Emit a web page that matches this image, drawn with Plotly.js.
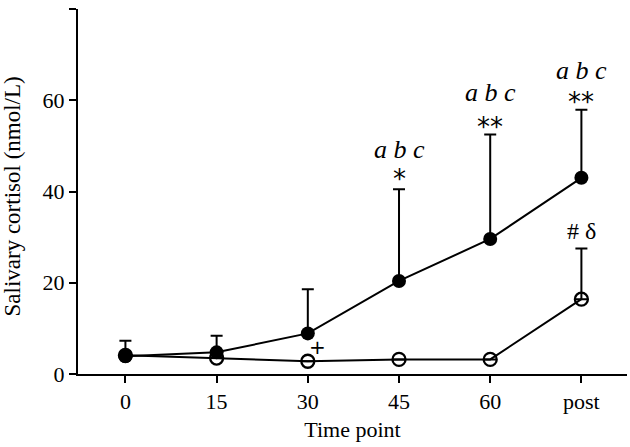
<!DOCTYPE html>
<html>
<head>
<meta charset="utf-8">
<script src="https://cdn.plot.ly/plotly-3.0.1.min.js"></script>
<style>html,body{margin:0;padding:0;background:#fff;}#chart{width:630px;height:447px;}</style>
</head>
<body>
<div id="chart"></div>
<script>
const timePoints = ['0', '15', '30', '45', '60', 'post'];
const filledMean = [3.9, 4.75, 8.9, 20.4, 29.6, 43.0];
const filledSD = [3.4, 3.65, 9.7, 20.1, 22.9, 14.9];
const openMean = [4.1, 3.5, 2.8, 3.2, 3.2, 16.4];
const openSD = [0, 0, 0, 0, 0, 11.1];

const letterLabels = ['45', '60', 'post'];
const letterY = [49.3, 61.6, 66.6];
const starLabels = ['45', '60', 'post'];
const starY = [44.1, 55.5, 61.0];
const starText = ['*', '**', '**'];
const hashLabel = 'post';
const hashY = 31.3;
const plusLabel = '30';
const plusY = 5.8;

const zeros = timePoints.map(() => 0);
const idx = lab => timePoints.indexOf(lab);

const traces = [
  {
    x: timePoints, y: openMean, type: 'scatter', mode: 'lines+markers',
    line: {color: '#000', width: 2},
    marker: {symbol: 'circle-open', size: 13, color: '#000', line: {width: 2.3, color: '#000'}},
    error_y: {type: 'data', symmetric: false, array: openSD, arrayminus: zeros, color: '#000', thickness: 2, width: 6},
    cliponaxis: false
  },
  {
    x: timePoints, y: filledMean, type: 'scatter', mode: 'lines+markers',
    line: {color: '#000', width: 2},
    marker: {symbol: 'circle', size: 14, color: '#000'},
    error_y: {type: 'data', symmetric: false, array: filledSD, arrayminus: zeros, color: '#000', thickness: 2, width: 6},
    cliponaxis: false
  }
];

const serif = '"Liberation Serif", "Times New Roman", serif';
const sans = '"DejaVu Sans", Arial, sans-serif';

const annotations = [];
letterLabels.forEach((lab, i) => annotations.push({
  x: idx(lab), y: letterY[i], xref: 'x', yref: 'y', showarrow: false,
  text: '<i>a&nbsp;b&nbsp;c</i>', font: {family: serif, color: '#000', size: 26}
}));
starLabels.forEach((lab, i) => annotations.push({
  x: idx(lab), y: starY[i], xref: 'x', yref: 'y', showarrow: false, yshift: -6,
  text: starText[i], font: {family: sans, color: '#000', size: 26}
}));
annotations.push({
  x: idx(hashLabel), y: hashY, xref: 'x', yref: 'y', showarrow: false,
  text: '#&nbsp;δ', font: {family: serif, color: '#000', size: 24}
});
annotations.push({
  x: idx(plusLabel), y: plusY, xref: 'x', yref: 'y', xshift: 10, yshift: 1, showarrow: false,
  text: '+', font: {family: sans, color: '#000', size: 20}
});
annotations.push({
  x: 0, y: 0.5, xref: 'paper', yref: 'paper', xanchor: 'center', yanchor: 'middle',
  xshift: -66, yshift: -5, textangle: -90, showarrow: false,
  text: 'Salivary cortisol (nmol/L)', font: {family: serif, color: '#000', size: 23}
});

const layout = {
  width: 630, height: 447,
  margin: {l: 78, r: 3, t: 9, b: 73},
  paper_bgcolor: '#fff', plot_bgcolor: '#fff',
  showlegend: false,
  font: {family: serif, color: '#000', size: 22},
  xaxis: {
    type: 'category', range: [-0.52, 5.5],
    showline: true, linecolor: '#000', linewidth: 2,
    ticks: 'outside', ticklen: 7, tickwidth: 2, tickcolor: '#000',
    showgrid: false, zeroline: false,
    tickfont: {family: serif, color: '#000', size: 22},
    title: {text: 'Time point', font: {family: serif, color: '#000', size: 22}, standoff: 8}
  },
  yaxis: {
    range: [0, 80], tickvals: [0, 20, 40, 60, 80],
    showline: true, linecolor: '#000', linewidth: 2,
    ticks: 'outside', ticklen: 7, tickwidth: 2, tickcolor: '#000',
    showgrid: false, zeroline: false,
    tickfont: {family: serif, color: '#000', size: 22}
  },
  annotations: annotations
};

Plotly.newPlot('chart', traces, layout, {displayModeBar: false, staticPlot: true});
</script>
</body>
</html>
